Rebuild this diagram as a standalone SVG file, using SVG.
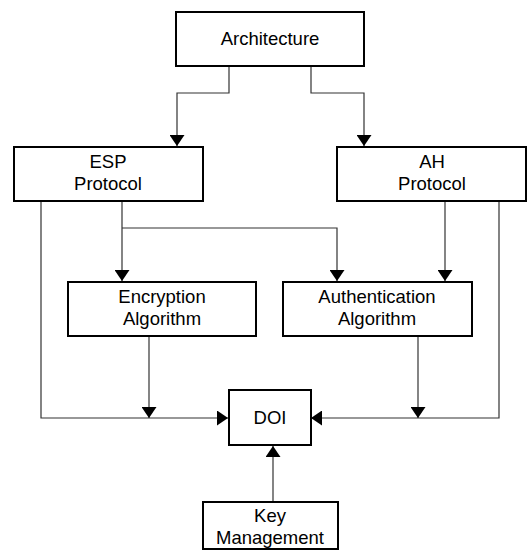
<svg xmlns="http://www.w3.org/2000/svg" width="530" height="550" viewBox="0 0 530 550">
  <style>
    .box { fill: #fff; stroke: #000; stroke-width: 2; }
    .lbl { font-family: "Liberation Sans", Arial, sans-serif; font-size: 18.5px; fill: #000; text-anchor: middle; }
    .wire { fill: none; stroke: #333; stroke-width: 1.2; }
  </style>
  <defs>
    <marker id="arrow" viewBox="0 0 11 15" refX="11" refY="7.5" markerWidth="11" markerHeight="15" markerUnits="userSpaceOnUse" orient="auto">
      <path d="M0,0 L11,7.5 L0,15 Z" fill="#000"/>
    </marker>
  </defs>

  <rect width="530" height="550" fill="#fff"/>

  <g id="connectors">
    <path class="wire" d="M229,66 V93 H177 V146" marker-end="url(#arrow)"/>
    <path class="wire" d="M311,66 V93 H364 V146" marker-end="url(#arrow)"/>
    <path class="wire" d="M122,201 V281" marker-end="url(#arrow)"/>
    <path class="wire" d="M122,228 H337 V281" marker-end="url(#arrow)"/>
    <path class="wire" d="M445,201 V281" marker-end="url(#arrow)"/>
    <path class="wire" d="M41,201 V418 H228" marker-end="url(#arrow)"/>
    <path class="wire" d="M149,336 V418" marker-end="url(#arrow)"/>
    <path class="wire" d="M499,201 V418 H311" marker-end="url(#arrow)"/>
    <path class="wire" d="M418,336 V418" marker-end="url(#arrow)"/>
    <path class="wire" d="M273,501 V446" marker-end="url(#arrow)"/>
  </g>

  <g id="architecture">
    <rect class="box" x="176" y="12" width="188" height="54"/>
    <text class="lbl" x="270" y="45">Architecture</text>
  </g>
  <g id="esp">
    <rect class="box" x="14" y="147" width="189" height="54"/>
    <text class="lbl" x="108" y="168">ESP</text>
    <text class="lbl" x="108" y="190">Protocol</text>
  </g>
  <g id="ah">
    <rect class="box" x="337" y="147" width="189" height="54"/>
    <text class="lbl" x="432" y="168">AH</text>
    <text class="lbl" x="432" y="190">Protocol</text>
  </g>
  <g id="encryption">
    <rect class="box" x="68" y="282" width="188" height="54"/>
    <text class="lbl" x="162" y="303">Encryption</text>
    <text class="lbl" x="162" y="325">Algorithm</text>
  </g>
  <g id="authentication">
    <rect class="box" x="283" y="282" width="189" height="54"/>
    <text class="lbl" x="377" y="303">Authentication</text>
    <text class="lbl" x="377" y="325">Algorithm</text>
  </g>
  <g id="doi">
    <rect class="box" x="229" y="390" width="82" height="55"/>
    <text class="lbl" x="270" y="424">DOI</text>
  </g>
  <g id="key-management">
    <rect class="box" x="203" y="502" width="135" height="47"/>
    <text class="lbl" x="270" y="522">Key</text>
    <text class="lbl" x="270" y="544">Management</text>
  </g>
</svg>
